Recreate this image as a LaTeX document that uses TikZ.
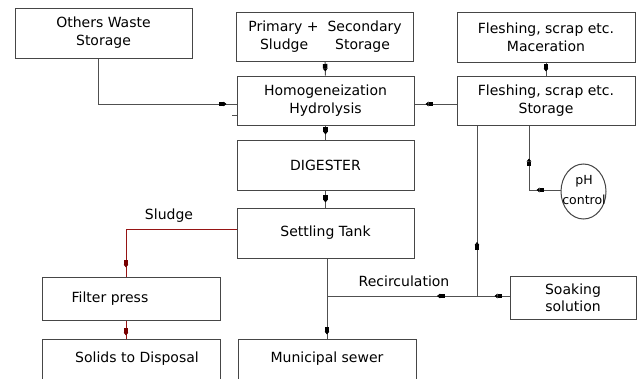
\documentclass[tikz,border=0pt]{standalone}
\usepackage{fontspec}
\setmainfont{DejaVu Sans}
\usetikzlibrary{arrows.meta,decorations.markings,shapes.geometric}
\definecolor{boxc}{RGB}{70,70,70}
\definecolor{linec}{RGB}{80,80,80}
\definecolor{sludgec}{RGB}{150,20,20}
\definecolor{sludgea}{RGB}{120,0,0}
\newcommand\dfont{\fontsize{14}{18}\selectfont}
\tikzset{
  blk/.tip={Rectangle[length=4.5pt,width=4.5pt,black]Triangle[length=3pt,width=4.5pt,black]},
  blr/.tip={Rectangle[length=4.5pt,width=4.5pt,sludgea]Triangle[length=3pt,width=4.5pt,sludgea]}
}
\begin{document}
\begin{tikzpicture}[x=1pt,y=-1pt,
  box/.style={draw=boxc,line width=1pt,inner sep=0pt,align=center,font=\dfont,text=black},
  lbl/.style={inner sep=0pt,font=\dfont,text=black},
  ln/.style={draw=linec,line width=1pt},
  red/.style={draw=sludgec,line width=1pt},
  ma/.style={postaction={decorate,decoration={markings,mark=at position #1 with {\arrow{blk}}}}},
  mr/.style={postaction={decorate,decoration={markings,mark=at position #1 with {\arrow{blr}}}}},
  mb/.style 2 args={postaction={decorate,decoration={markings,
     mark=at position #1 with {\arrow{blk}},
     mark=at position #2 with {\arrow{blk}}}}}
]
\useasboundingbox (0,0) rectangle (638,378);
\clip (0,0) rectangle (638,378);
\fill[white] (0,0) rectangle (638,378);

% boxes
\node[box,minimum width=177pt,minimum height=50pt] (ows) at (103.5,33) {Others Waste\\Storage};
\node[box,minimum width=177pt,minimum height=49pt] (pss) at (325,36.5) {Primary +\ \ Secondary\\Sludge\hspace{27pt}Storage};
\node[box,minimum width=177pt,minimum height=49pt] (hom) at (325.5,100.5) {Homogeneization\\Hydrolysis};
\node[box,minimum width=178pt,minimum height=50pt] (fmac) at (546,37) {Fleshing, scrap etc.\\Maceration};
\node[box,minimum width=178pt,minimum height=49pt] (fsto) at (546,100.5) {Fleshing, scrap etc.\\Storage};
\node[box,minimum width=177pt,minimum height=50pt] (dig) at (325.5,165) {DIGESTER};
\node[box,minimum width=177pt,minimum height=50pt] (set) at (325.5,233) {Settling Tank};
\node[box,minimum width=178pt,minimum height=43pt] (fp) at (131,298.5) {\hspace*{-42pt}Filter press};
\node[box,minimum width=178pt,minimum height=40pt] (sol) at (131,359) {\hspace*{12pt}Solids to Disposal};
\node[box,minimum width=178pt,minimum height=40pt] (mun) at (327,359) {Municipal sewer};
\node[box,minimum width=126pt,minimum height=43pt,font=\fontsize{14}{17}\selectfont] (soak) at (573,297.5) {Soaking\\solution};
\node[box,ellipse,minimum width=45pt,minimum height=55pt] (ph) at (583.5,191.5) {};
\node[lbl,align=center,font=\fontsize{12.5}{20}\selectfont] (pht) at (584,190) {pH\\control};

% labels
\node[lbl] (lsl) at (169,216) {Sludge};
\node[lbl] (lrc) at (404,281) {Recirculation};

% coordinates
\coordinate (c1) at (98,104);
\coordinate (jn) at (477,296);
\coordinate (jm) at (327,296);
\coordinate (cp) at (529,190);
\coordinate (cs) at (126,229);

% connectors
\draw[ln,ma=-10pt] (ows.south -| c1) |- (hom.west |- c1);
\draw[ln] ([yshift=-14.5pt]hom.west) -- ++(-5,0);
\draw[ln,ma=-4pt] (pss.south) -- (hom.north);
\draw[ln,ma=-5pt] (hom.south) -- (dig.north);
\draw[ln,ma=-5pt] (dig.south) -- (set.north);
\draw[ln,ma=-4pt] (set.south -| mun.north) -- (mun.north);
\draw[ln,ma=-11pt] (fsto.west |- c1) -- (hom.east |- c1);
\draw[ln,ma=-4pt] (fmac.south) -- (fsto.north);
\draw[ln,mb={24pt}{63pt}] (ph.west |- cp) -- (cp) -- (fsto.south -| cp);
\draw[ln,ma=15pt] (soak.west |- jn) -- (jn);
\draw[ln,ma=54pt] (jn) -- (fsto.south -| jn);
\draw[ln,ma=40pt] (jn) -- (jm);
\draw[red,mr=-9pt] (set.west |- cs) -- (cs) -- (fp.north -| cs);
\draw[red,mr=-3pt] (fp.south -| cs) -- (sol.north -| cs);
\end{tikzpicture}
\end{document}
